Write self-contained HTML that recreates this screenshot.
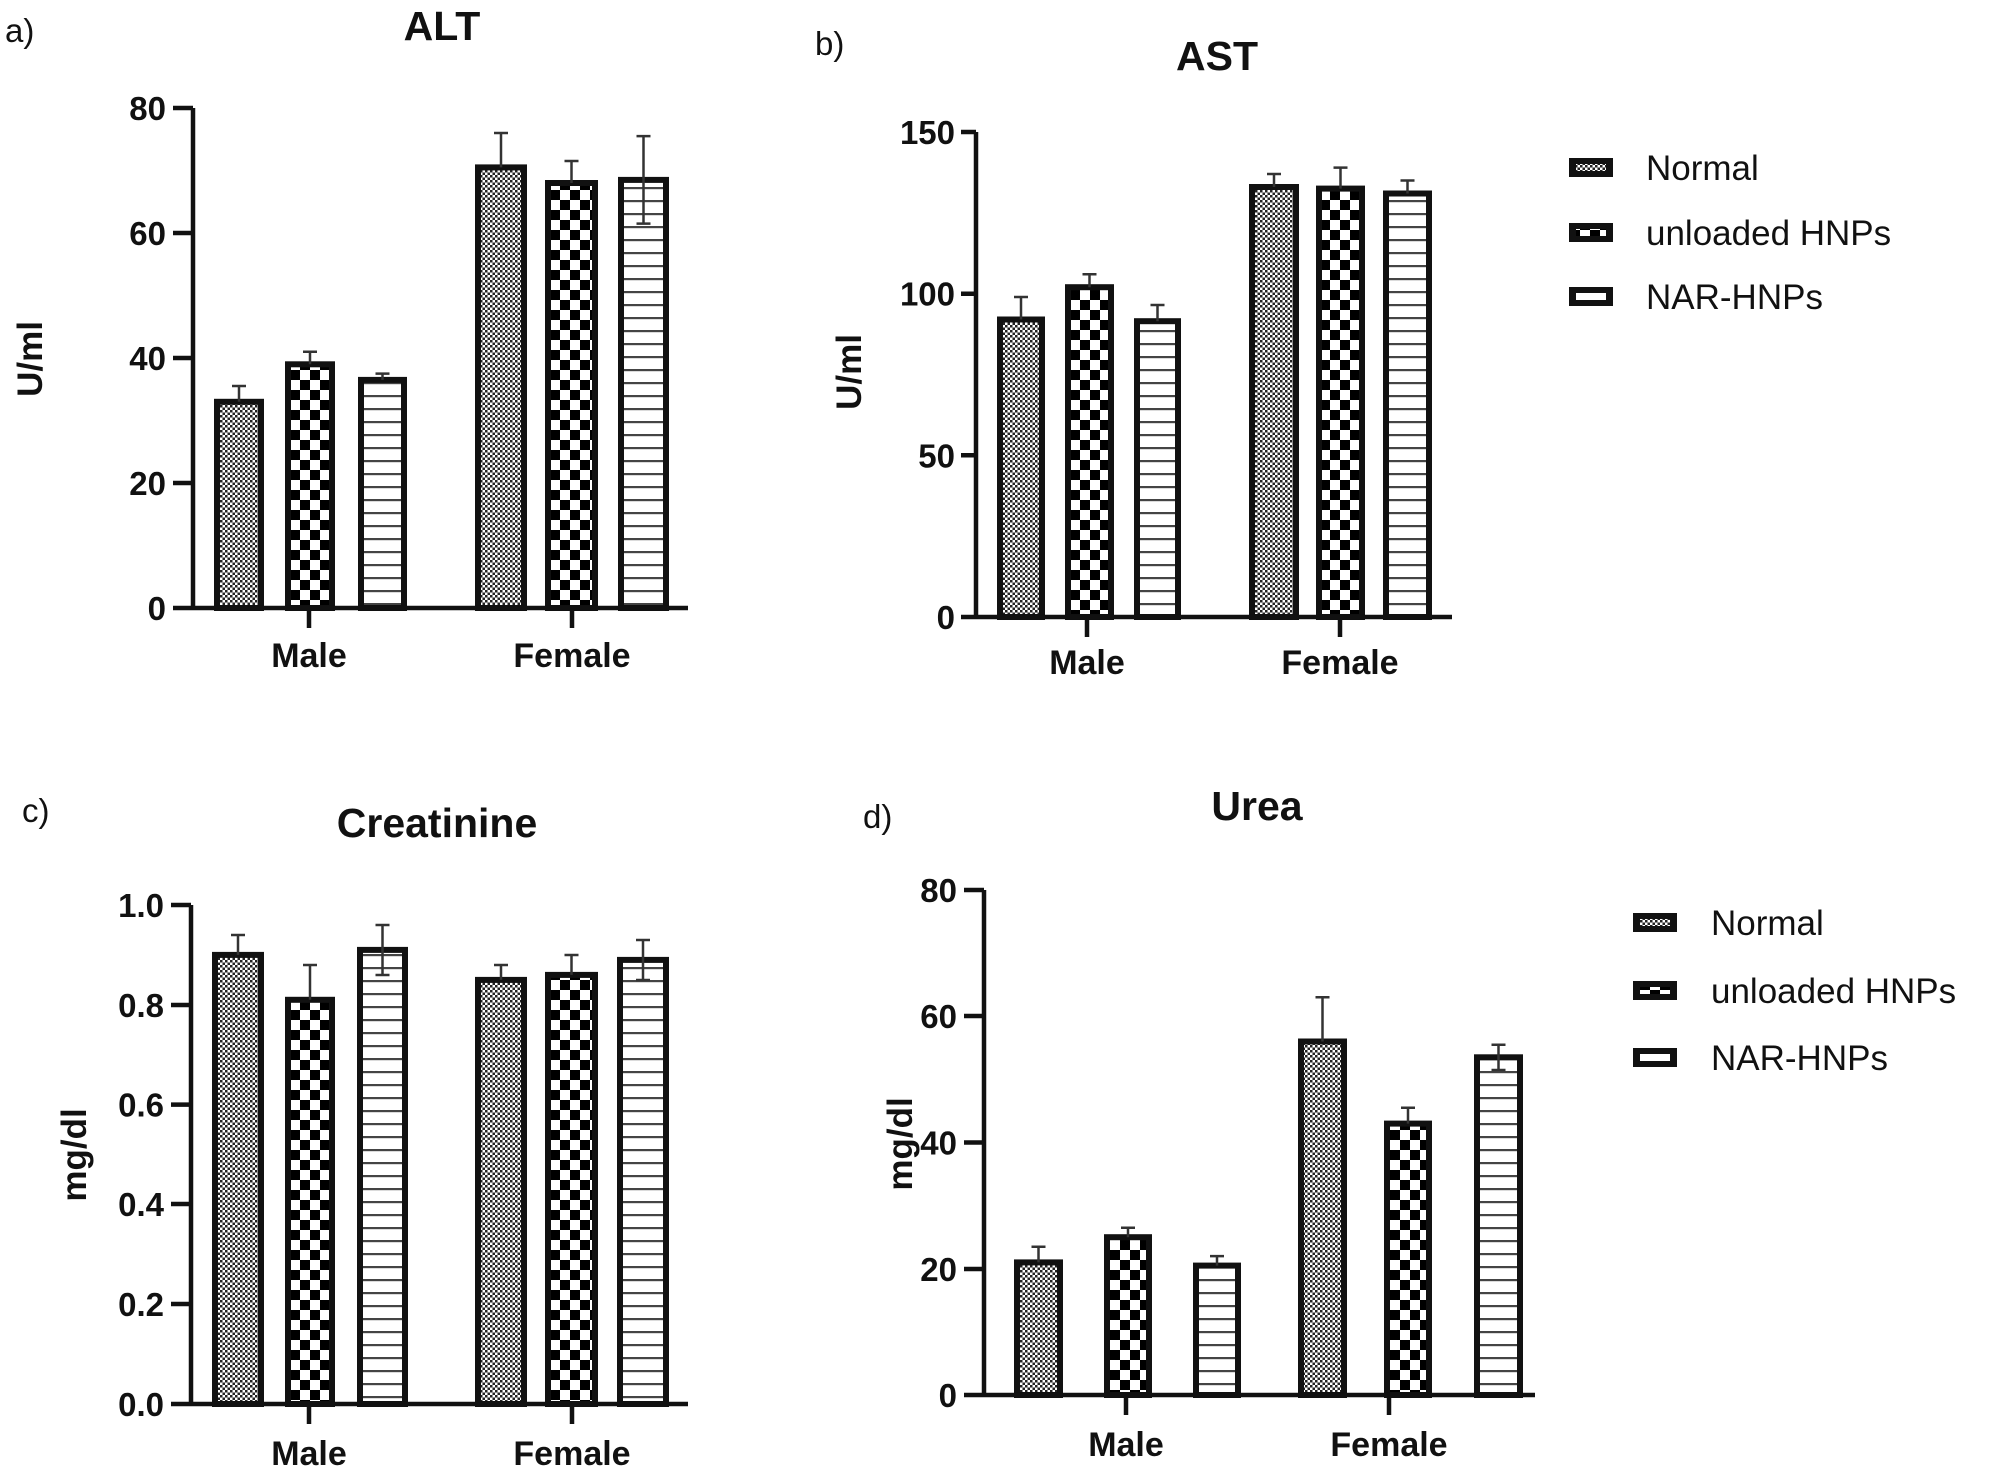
<!DOCTYPE html>
<html><head><meta charset="utf-8"><style>
html,body{margin:0;padding:0;background:#fff;}
svg{display:block;}
text{font-family:"Liberation Sans",Arial,sans-serif;fill:#111;}
.t{font-weight:bold;font-size:35px;}
.tk{font-weight:bold;font-size:33px;}
.cat{font-weight:bold;font-size:34px;}
.ttl{font-weight:bold;font-size:41px;}
.pl{font-size:33px;}
.lg{font-size:35px;}
</style></head><body>
<svg width="1998" height="1477" viewBox="0 0 1998 1477" xmlns="http://www.w3.org/2000/svg">
<defs>
<pattern id="p1" width="5" height="5" patternUnits="userSpaceOnUse">
<rect width="5" height="5" fill="#fff"/><rect width="2.5" height="2.5" fill="#222"/><rect x="2.5" y="2.5" width="2.5" height="2.5" fill="#222"/>
</pattern>
<pattern id="p2" width="20" height="20" patternUnits="userSpaceOnUse">
<rect width="20" height="20" fill="#fff"/><rect width="10" height="10" fill="#000"/><rect x="10" y="10" width="10" height="10" fill="#000"/>
</pattern>
<pattern id="p3" width="13" height="13" patternUnits="userSpaceOnUse">
<rect width="13" height="13" fill="#fff"/><rect y="5" width="13" height="2.2" fill="#444"/>
</pattern>
</defs>
<g stroke="#111" stroke-width="6" fill="none">
<rect x="217" y="401.8" width="44" height="206.2" fill="url(#p1)"/>
<rect x="288" y="364.3" width="44" height="243.7" fill="url(#p2)"/>
<rect x="361" y="379.9" width="43" height="228.1" fill="url(#p3)"/>
<rect x="478" y="167.4" width="46" height="440.6" fill="url(#p1)"/>
<rect x="548" y="183" width="47" height="425" fill="url(#p2)"/>
<rect x="621" y="179.9" width="45" height="428.1" fill="url(#p3)"/>
<rect x="1000" y="319.5" width="42" height="297.5" fill="url(#p1)"/>
<rect x="1068" y="287.2" width="43" height="329.8" fill="url(#p2)"/>
<rect x="1137" y="321.2" width="41" height="295.8" fill="url(#p3)"/>
<rect x="1252" y="187" width="44" height="430" fill="url(#p1)"/>
<rect x="1319" y="188.6" width="43" height="428.4" fill="url(#p2)"/>
<rect x="1386" y="193.5" width="43" height="423.5" fill="url(#p3)"/>
<rect x="215" y="954.9" width="46" height="449.1" fill="url(#p1)"/>
<rect x="288" y="999.8" width="44" height="404.2" fill="url(#p2)"/>
<rect x="360" y="949.9" width="45" height="454.1" fill="url(#p3)"/>
<rect x="478" y="979.9" width="46" height="424.1" fill="url(#p1)"/>
<rect x="548" y="974.9" width="47" height="429.1" fill="url(#p2)"/>
<rect x="620" y="959.9" width="46" height="444.1" fill="url(#p3)"/>
<rect x="1017" y="1262.4" width="43" height="132.6" fill="url(#p1)"/>
<rect x="1107" y="1237.2" width="42" height="157.8" fill="url(#p2)"/>
<rect x="1196" y="1265.6" width="42" height="129.4" fill="url(#p3)"/>
<rect x="1301" y="1041.5" width="43" height="353.5" fill="url(#p1)"/>
<rect x="1387" y="1123.6" width="42" height="271.4" fill="url(#p2)"/>
<rect x="1477" y="1057.3" width="43" height="337.7" fill="url(#p3)"/>
</g>
<g stroke="#333" stroke-width="2.5" fill="none">
<path d="M239 401.8V386M232 386H246"/>
<path d="M310 364.3V351.8M303 351.8H317"/>
<path d="M382.5 379.9V373.6M375.5 373.6H389.5"/>
<path d="M501 167.4V133M494 133H508"/>
<path d="M571.5 183V161M564.5 161H578.5"/>
<path d="M643.5 223.6V136.1M636.5 136.1H650.5M636.5 223.6H650.5"/>
<path d="M1021 319.5V297M1014 297H1028"/>
<path d="M1089.5 287.2V274.3M1082.5 274.3H1096.5"/>
<path d="M1157.5 321.2V305M1150.5 305H1164.5"/>
<path d="M1274 187V174M1267 174H1281"/>
<path d="M1340.5 188.6V167.6M1333.5 167.6H1347.5"/>
<path d="M1407.5 193.5V180.5M1400.5 180.5H1414.5"/>
<path d="M238 954.9V935M231 935H245"/>
<path d="M310 999.8V965M303 965H317"/>
<path d="M382.5 975V925M375.5 925H389.5M375.5 975H389.5"/>
<path d="M501 979.9V965M494 965H508"/>
<path d="M571.5 974.9V955M564.5 955H578.5"/>
<path d="M643 980V940M636 940H650M636 980H650"/>
<path d="M1038.5 1262.4V1246.7M1031.5 1246.7H1045.5"/>
<path d="M1128 1237.2V1227.7M1121 1227.7H1135"/>
<path d="M1217 1265.6V1256.1M1210 1256.1H1224"/>
<path d="M1322.5 1041.5V997.3M1315.5 997.3H1329.5"/>
<path d="M1408 1123.6V1107.8M1401 1107.8H1415"/>
<path d="M1498.5 1070V1044.7M1491.5 1044.7H1505.5M1491.5 1070H1505.5"/>
</g>
<g stroke="#111" stroke-width="4.5" fill="none">
<path d="M193 108V608H688M173 108H193M173 233H193M173 358H193M173 483H193M173 608H193M309 608V628M572 608V628"/>
<path d="M976 132V617H1452M961 132H976M961 293.7H976M961 455.3H976M961 617H976M1087 617V637M1340 617V637"/>
<path d="M191 905V1404H688M171 905H191M171 1005H191M171 1104.6H191M171 1204H191M171 1304H191M171 1404H191M309 1404V1424M572 1404V1424"/>
<path d="M984 890V1395H1535M964 890H984M964 1016H984M964 1142.5H984M964 1269H984M964 1395H984M1126 1395V1415M1389 1395V1415"/>
</g>
<text class="pl" x="5" y="42">a)</text>
<text class="ttl" x="442" y="40" text-anchor="middle">ALT</text>
<g class="tk" text-anchor="end">
<text x="166" y="120">80</text><text x="166" y="245">60</text><text x="166" y="370">40</text><text x="166" y="495">20</text><text x="166" y="620">0</text>
</g>
<text class="cat" x="309" y="667" text-anchor="middle">Male</text>
<text class="cat" x="572" y="667" text-anchor="middle">Female</text>
<text class="t" transform="translate(42,359) rotate(-90)" text-anchor="middle">U/ml</text>
<text class="pl" x="815" y="55">b)</text>
<text class="ttl" x="1217" y="70" text-anchor="middle">AST</text>
<g class="tk" text-anchor="end">
<text x="955" y="144">150</text><text x="955" y="305.7">100</text><text x="955" y="467.3">50</text><text x="955" y="629">0</text>
</g>
<text class="cat" x="1087" y="674" text-anchor="middle">Male</text>
<text class="cat" x="1340" y="674" text-anchor="middle">Female</text>
<text class="t" transform="translate(861,372) rotate(-90)" text-anchor="middle">U/ml</text>
<g>
<rect x="1569" y="158" width="44" height="19" fill="#111"/><rect x="1576" y="164" width="30" height="7" fill="url(#p1)"/>
<rect x="1569" y="223" width="44" height="19" fill="#111"/><rect x="1576" y="229" width="30" height="7" fill="url(#p2)"/>
<rect x="1569" y="287" width="44" height="19" fill="#111"/><rect x="1576" y="293" width="30" height="7" fill="#fff"/>
</g>
<text class="lg" x="1646" y="180">Normal</text>
<text class="lg" x="1646" y="245">unloaded HNPs</text>
<text class="lg" x="1646" y="309">NAR-HNPs</text>
<text class="pl" x="22" y="822">c)</text>
<text class="ttl" x="437" y="837" text-anchor="middle">Creatinine</text>
<g class="tk" text-anchor="end">
<text x="164" y="917">1.0</text><text x="164" y="1017">0.8</text><text x="164" y="1116.6">0.6</text><text x="164" y="1216">0.4</text><text x="164" y="1316">0.2</text><text x="164" y="1416">0.0</text>
</g>
<text class="cat" x="309" y="1465" text-anchor="middle">Male</text>
<text class="cat" x="572" y="1465" text-anchor="middle">Female</text>
<text class="t" transform="translate(86,1155) rotate(-90)" text-anchor="middle">mg/dl</text>
<text class="pl" x="863" y="828">d)</text>
<text class="ttl" x="1257" y="820" text-anchor="middle">Urea</text>
<g class="tk" text-anchor="end">
<text x="957" y="902">80</text><text x="957" y="1028">60</text><text x="957" y="1154.5">40</text><text x="957" y="1281">20</text><text x="957" y="1407">0</text>
</g>
<text class="cat" x="1126" y="1456" text-anchor="middle">Male</text>
<text class="cat" x="1389" y="1456" text-anchor="middle">Female</text>
<text class="t" transform="translate(912,1144) rotate(-90)" text-anchor="middle">mg/dl</text>
<g>
<rect x="1633" y="913" width="44" height="19" fill="#111"/><rect x="1640" y="919" width="30" height="7" fill="url(#p1)"/>
<rect x="1633" y="981" width="44" height="19" fill="#111"/><rect x="1640" y="987" width="30" height="7" fill="url(#p2)"/>
<rect x="1633" y="1048" width="44" height="19" fill="#111"/><rect x="1640" y="1054" width="30" height="7" fill="#fff"/>
</g>
<text class="lg" x="1711" y="935">Normal</text>
<text class="lg" x="1711" y="1003">unloaded HNPs</text>
<text class="lg" x="1711" y="1070">NAR-HNPs</text>
</svg>
</body></html>
